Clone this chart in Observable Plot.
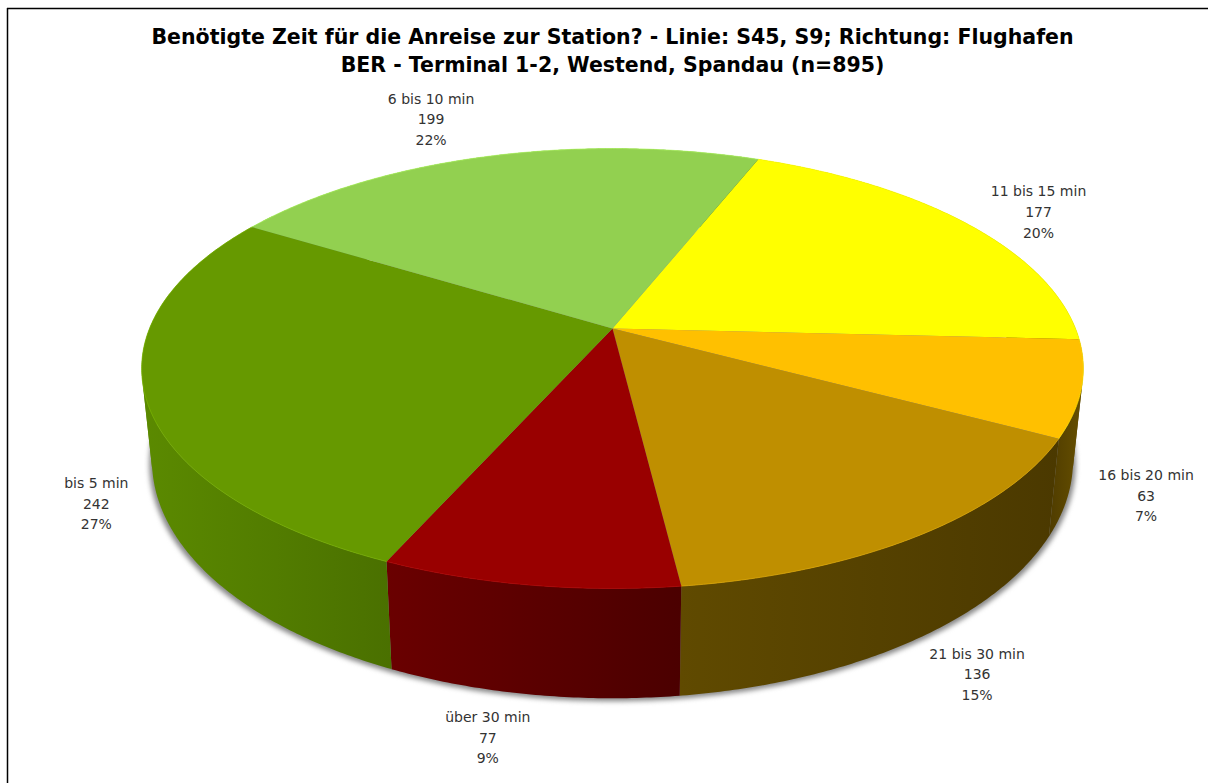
<!DOCTYPE html>
<html>
<head>
<meta charset="utf-8">
<script src="https://cdn.jsdelivr.net/npm/d3@7"></script>
<script src="https://cdn.jsdelivr.net/npm/@observablehq/plot@0.6"></script>
<style>html,body{margin:0;padding:0;background:#fff;overflow:hidden}</style>
</head>
<body>
<div id="chart"></div>
<script>
const titleLines = ["Benötigte Zeit für die Anreise zur Station? - Linie: S45, S9; Richtung: Flughafen", "BER - Terminal 1-2, Westend, Spandau (n=895)"];
const categories = ["11 bis 15 min", "16 bis 20 min", "21 bis 30 min", "über 30 min", "bis 5 min", "6 bis 10 min"];
const counts = [177, 63, 136, 77, 242, 199];
const percents = ["20%", "7%", "15%", "9%", "27%", "22%"];
const topColors = ["#ffff00", "#ffc000", "#bf8f00", "#990000", "#669900", "#92d050"];
const wallFrom = ["#999900", "#4f3c00", "#604a00", "#6a0000", "#5b8a00", "#577d30"];
const wallTo = ["#666600", "#675000", "#4b3900", "#4b0000", "#4a7000", "#486828"];

// Projection of the tilted disc, fitted to the picture
const cx = 612, cy = 328, A = 463, B = 212.7, k = 0.1818, baseDrop = 89, baseStretch = 1.08, baseScale = 0.978, startDeg = 21.6;
const rad = Math.PI / 180;
const rim = (deg) => {
  const X = Math.sin(deg * rad), Y = Math.cos(deg * rad), w = 1 + k * Y;
  return {x: cx + A * X / w, y: cy - B * Y / w};
};
const base = (deg) => {
  const p = rim(deg);
  return {x: cx + baseScale * (p.x - cx), y: cy + baseDrop + baseStretch * (p.y - cy)};
};

const total = d3.sum(counts);
let running = startDeg;
const slices = categories.map((name, i) => {
  const a0 = running, a1 = running + counts[i] / total * 360;
  running = a1;
  const arc = d3.range(a0, a1, 0.5).concat([a1]);
  return {i, name, a0, a1, arc, mid: (a0 + a1) / 2};
});

const topFace = (s) => [{x: cx, y: cy}, ...s.arc.map(rim), {x: cx, y: cy}];
// The wall outline folds at the silhouette; split it there so that the folded part is not cancelled out
const facing = (a) => {
  const p = rim(a), q = rim(a + 0.5), b = base(a);
  return (q.x - p.x) * (b.y - p.y) - (q.y - p.y) * (b.x - p.x) > 0;
};
const wall = (s) => {
  const runs = [[s.arc[0]]];
  s.arc.slice(1).forEach((a, j) => {
    if (facing(a) !== facing(s.arc[j])) runs.push([s.arc[j]]);
    runs[runs.length - 1].push(a);
  });
  return runs.flatMap((run, q) => [...run.map(rim), ...run.slice().reverse().map(base)].map((p) => ({...p, q})));
};
const labelOf = (s) => {
  const X = Math.sin(s.mid * rad), Y = Math.cos(s.mid * rad);
  const p = Y < 0 ? base(s.mid) : rim(s.mid);
  return {
    x: p.x + (X > 0 ? 48 + 28 * X : -(40 + 20 * Math.abs(X) + (Y > 0 ? 10 : 0))),
    y: Y < 0 ? p.y + 9.5 + 33 * Y * Y : p.y - 1 - 42 * Y * Y,
    text: `${s.name}\n${counts[s.i]}\n${percents[s.i]}`
  };
};

const defs = () => {
  const d = d3.create("svg:defs");
  slices.forEach((s) => {
    const xs = [...s.arc.map(rim), ...s.arc.map(base)].map((p) => p.x);
    const g = d.append("linearGradient").attr("id", `wall${s.i}`).attr("gradientUnits", "userSpaceOnUse")
      .attr("x1", d3.min(xs)).attr("x2", d3.max(xs)).attr("y1", 0).attr("y2", 0);
    g.append("stop").attr("offset", 0).attr("stop-color", wallFrom[s.i]);
    g.append("stop").attr("offset", 1).attr("stop-color", wallTo[s.i]);
  });
  return d.node();
};

const shadow = d3.range(0, 360.5, 1).map(base).map((p) => ({x: cx + 1.006 * (p.x - cx), y: p.y + 3}));
const font = "'DejaVu Sans', sans-serif";

const chart = Plot.plot({
  width: 1208, height: 783,
  margin: 0,
  x: {domain: [0, 1208], range: [0, 1208], axis: null},
  y: {domain: [0, 783], range: [0, 783], axis: null},
  marks: [
    defs,
    Plot.ruleX([7], {y1: 8, y2: 783, stroke: "#000", strokeWidth: 1.5}),
    Plot.ruleY([8], {x1: 7, x2: 1208, stroke: "#000", strokeWidth: 1.5}),
    Plot.line(shadow, {x: "x", y: "y", fill: "#888", stroke: null, imageFilter: "blur(2.5px)"}),
    ...slices.map((s) => Plot.line(wall(s), {x: "x", y: "y", z: "q", fill: `url(#wall${s.i})`, stroke: null})),
    ...slices.map((s) => Plot.line(topFace(s), {x: "x", y: "y", fill: topColors[s.i], stroke: null})),
    ...slices.map((s) => Plot.line(s.arc.map(rim), {x: "x", y: "y", stroke: d3.color(topColors[s.i]).brighter(0.5).formatHex(), strokeWidth: 1, strokeOpacity: 0.7})),
    Plot.text(slices.map(labelOf), {x: "x", y: "y", text: "text", fontFamily: font, fontSize: 14, lineHeight: 1.47, fill: "#333", textAnchor: "middle"}),
    Plot.text([titleLines.join("\n")], {x: () => cx, y: () => 49, text: (d) => d, fontFamily: font, fontWeight: "bold", fontSize: 20.5, lineHeight: 1.36, fill: "#000", textAnchor: "middle"})
  ]
});
document.getElementById("chart").append(chart);
</script>
</body>
</html>
